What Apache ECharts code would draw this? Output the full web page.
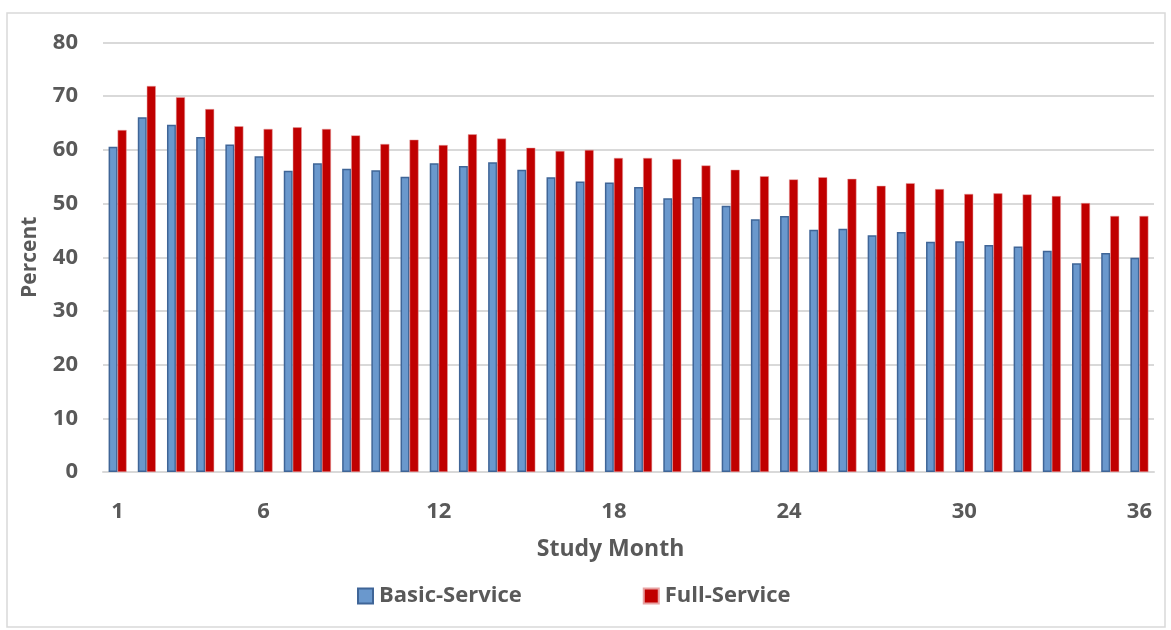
<!DOCTYPE html>
<html>
<head>
<meta charset="utf-8">
<script src="https://cdn.jsdelivr.net/npm/echarts@6/dist/echarts.min.js"></script>
<style>
  html, body { margin: 0; padding: 0; background: #ffffff; }
  #chart { width: 1171px; height: 630px; }
</style>
</head>
<body>
<div id="chart"></div>
<script>
// Study months 1..36
const months = Array.from({ length: 36 }, (_, i) => String(i + 1));

// Percent by study month
const basicService = [
  60.6, 66.1, 64.7, 62.4, 61.0, 58.8, 56.1, 57.5, 56.5, 56.2,
  55.0, 57.5, 57.0, 57.7, 56.3, 54.9, 54.1, 53.9, 53.1, 51.0,
  51.2, 49.6, 47.1, 47.7, 45.1, 45.3, 44.1, 44.7, 42.9, 43.0,
  42.3, 42.0, 41.2, 38.9, 40.8, 39.9
];
const fullService = [
  63.7, 71.9, 69.8, 67.6, 64.4, 63.9, 64.2, 63.9, 62.7, 61.1,
  61.9, 60.9, 62.9, 62.1, 60.4, 59.8, 60.0, 58.5, 58.5, 58.3,
  57.1, 56.3, 55.1, 54.5, 54.9, 54.6, 53.3, 53.8, 52.7, 51.8,
  51.9, 51.7, 51.4, 50.1, 47.7, 47.7
];

// Month labels printed under the axis
const shownMonths = ['1', '6', '12', '18', '24', '30', '36'];

const FONT = '"Open Sans"';
const TEXT = '#595959';

const chart = echarts.init(document.getElementById('chart'), null, { renderer: 'canvas' });

chart.setOption({
  animation: false,
  backgroundColor: '#ffffff',
  graphic: [{
    type: 'rect',
    shape: { x: 7, y: 13, width: 1158, height: 614 },
    style: { fill: 'none', stroke: '#D9D9D9', lineWidth: 1.5 },
    silent: true
  }],
  grid: { left: 103, right: 17, top: 42.5, bottom: 158 },
  legend: {
    data: ['Basic-Service', 'Full-Service'],
    left: 357,
    top: 585,
    padding: 0,
    itemWidth: 15,
    itemHeight: 15,
    itemGap: 121,
    icon: 'rect',
    textStyle: { fontFamily: FONT, fontWeight: 'bold', fontSize: 22, color: TEXT, padding: [0, 0, 0, 1] }
  },
  xAxis: {
    type: 'category',
    data: months,
    name: 'Study Month',
    nameLocation: 'middle',
    nameGap: 66,
    nameTextStyle: { fontFamily: FONT, fontWeight: 'bold', fontSize: 23, color: TEXT, padding: [0, 36, 0, 0] },
    axisLine: { lineStyle: { color: '#D9D9D9', width: 2 } },
    axisTick: { show: false },
    axisLabel: {
      interval: (idx, val) => shownMonths.includes(val),
      margin: 29,
      fontFamily: FONT, fontWeight: 'bold', fontSize: 22, color: TEXT
    }
  },
  yAxis: {
    type: 'value',
    min: 0,
    max: 80,
    interval: 10,
    name: 'Percent',
    nameLocation: 'middle',
    nameGap: 62,
    nameTextStyle: { fontFamily: FONT, fontWeight: 'bold', fontSize: 21, color: TEXT },
    axisLine: { show: false },
    axisTick: { show: false },
    splitLine: { lineStyle: { color: '#D9D9D9', width: 2 } },
    axisLabel: {
      margin: 25,
      fontFamily: FONT, fontWeight: 'bold', fontSize: 22, color: TEXT
    }
  },
  series: [
    {
      name: 'Basic-Service',
      type: 'bar',
      data: basicService,
      barWidth: 9,
      barGap: '0%',
      itemStyle: { color: '#6A98CD', borderColor: '#3F6597', borderWidth: 1.5 }
    },
    {
      name: 'Full-Service',
      type: 'bar',
      data: fullService,
      barWidth: 9,
      itemStyle: { color: '#C00000', borderColor: '#E7A3A3', borderWidth: 0.5 }
    }
  ]
});
</script>
</body>
</html>
